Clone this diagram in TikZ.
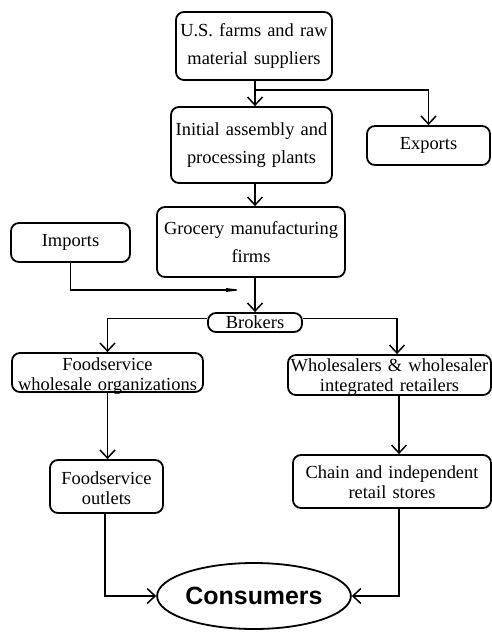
\documentclass[tikz,border=0pt]{standalone}
\usepackage{fontspec}
\setmainfont{Liberation Serif}
\newfontfamily\consfont{Liberation Sans}
\usetikzlibrary{arrows.meta,shapes.geometric}
\begin{document}
\begin{tikzpicture}[x=1bp,y=-1bp,
 box/.style={draw, line width=1.8bp, rounded corners=8bp, inner sep=0pt, align=center},
 wide/.style={font=\fontsize{18.5}{28}\selectfont},
 tight/.style={font=\fontsize{18.5}{20}\selectfont},
 txt/.style={inner sep=0pt, align=center},
 conn/.style={line width=1.5bp, -{Straight Barb[length=8bp,width=15bp,line width=1.5bp]}},
 plain/.style={line width=1.5bp}]
\useasboundingbox (0,0) rectangle (492,632);
\node[box,wide,text width=156bp,minimum height=68bp] (farms) at (254,46) {U.S. farms and raw\\material suppliers};
\node[box,wide,text width=161bp,minimum height=76bp] (init) at (251.5,145) {Initial assembly and\\processing plants};
\node[box,wide,text width=123bp,minimum height=39bp] (exports) at (428.5,145.5) {Exports};
\node[box,wide,text width=188bp,minimum height=70bp] (grocery) at (251,242) {Grocery manufacturing\\firms};
\node[box,wide,text width=119bp,minimum height=39bp] (imports) at (70.5,242.5) {Imports};
\node[box,wide,text width=94bp,minimum height=19bp] (brokers) at (255,322.5) {Brokers};
\node[box,minimum width=191bp,minimum height=39bp] (fsw) at (107.5,372.5) {};
\node[txt,tight,text width=191bp] (fswt) at ([yshift=-3.5bp]fsw.center) {Foodservice\\wholesale organizations};
\node[box,minimum width=203bp,minimum height=40bp] (whl) at (389.5,375) {};
\node[txt,tight,text width=203bp] (whlt) at ([yshift=-2.5bp]whl.center) {Wholesalers \& wholesaler\\integrated retailers};
\node[box,minimum width=113bp,minimum height=53bp] (fso) at (106.5,486.5) {};
\node[txt,tight,text width=113bp] (fsot) at ([yshift=-2bp]fso.center) {Foodservice\\outlets};
\node[box,minimum width=198bp,minimum height=53bp] (chain) at (392,481.5) {};
\node[txt,tight,text width=198bp] (chaint) at ([yshift=-1bp]chain.center) {Chain and independent\\retail stores};
\node[draw, ellipse, line width=1.8bp, minimum width=192bp, minimum height=66bp, inner sep=0pt,
      font=\consfont\bfseries\fontsize{25}{30}\selectfont] (cons) at (254,596) {Consumers};
\coordinate (spine) at (255,0);
\coordinate (rx) at (399,0);
\coordinate (j1) at (255,90);
\coordinate (impend) at (250,290);
% connectors
\draw[conn] (farms.south -| spine) -- (init.north -| spine);
\draw[conn] (j1) -| (exports.north);
\draw[conn] (init.south -| spine) -- (grocery.north -| spine);
\draw[conn] (grocery.south -| spine) -- (brokers.north);
\draw[line width=1.5bp, -{Latex[length=24bp,width=4bp]}] (imports.south) |- (impend);
\draw[conn] ([yshift=4bp]brokers.west) -| (fsw.north);
\draw[conn] ([yshift=4bp]brokers.east) -| ([xshift=7.5bp]whl.north);
\draw[conn] (fsw.south) -- (fsw.south |- fso.north);
\draw[conn] (whl.south -| rx) -- (chain.north -| rx);
\draw[conn] ([xshift=-1.5bp]fso.south) |- (cons.west);
\draw[conn] (chain.south -| rx) |- (cons.east);
\end{tikzpicture}
\end{document}
